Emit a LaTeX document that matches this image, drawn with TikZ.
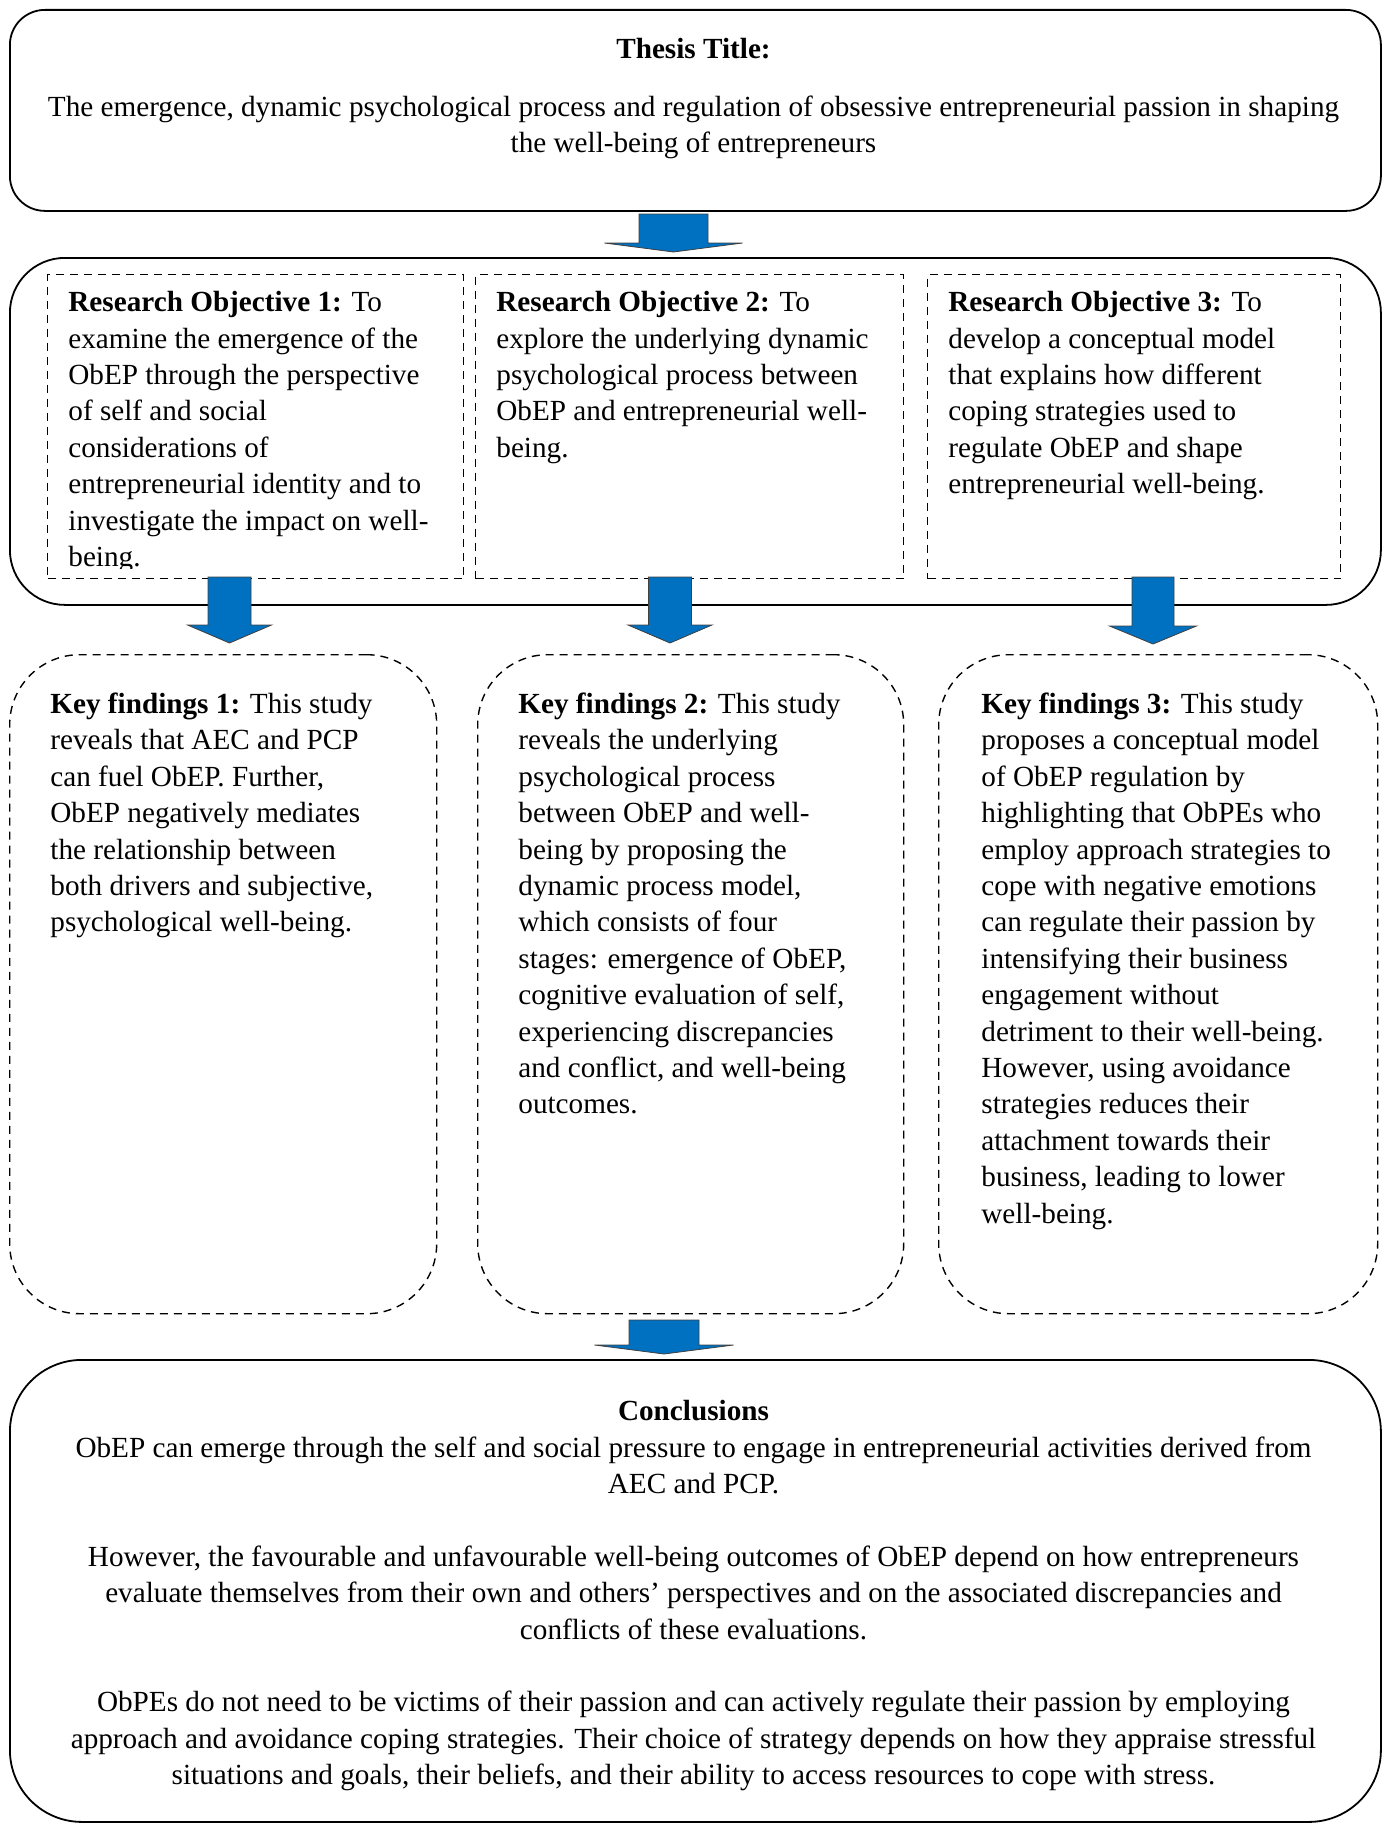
\documentclass[tikz,border=0pt]{standalone}
\usepackage{fontspec}
\setmainfont{Liberation Serif}
\usepackage{xcolor}
\usetikzlibrary{positioning}
\usetikzlibrary{calc}
\definecolor{arrowblue}{HTML}{0070C0}
\tikzstyle{box}=[draw,line width=0.9pt,anchor=north west,inner sep=0pt]
\tikzstyle{dbox}=[draw,line width=0.7pt,dash pattern=on 4pt off 3pt,anchor=north west,inner sep=0pt]
\tikzstyle{blockarrow}=[fill=arrowblue,draw=black!75,line width=0.4pt,line join=miter]
\tikzstyle{txt}=[inner sep=0pt,align=left,anchor=north west,font=\fontsize{14.6pt}{18.2pt}\selectfont]
\tikzset{ctxt/.style={txt,align=center,anchor=north}}

\begin{document}
\begin{tikzpicture}[x=0.5pt,y=-0.5pt]

  \useasboundingbox (0,0) rectangle (1387,1825);

  % solid frames
  \foreach \x/\y/\w/\h/\r/\name in {9/9/1371/201/17.5/title, 9/257/1371/347/27.5/objs, 9/1359/1371/462/36/concl}
          \node[box,rounded corners=\r pt,minimum width=\w*0.5pt,minimum height=\h*0.5pt] (\name) at (\x,\y) {};

  % objective boxes
  \foreach \x/\w/\name in {47/416/ro1, 475/428/ro2, 927/413/ro3}
          \node[dbox,minimum width=\w*0.5pt,minimum height=304*0.5pt] (\name) at (\x,274) {};

  % findings boxes
  \foreach \x/\w/\name in {9/427/kf1, 477/426/kf2, 938/439/kf3}
          \node[dbox,rounded corners=35pt,minimum width=\w*0.5pt,minimum height=659*0.5pt] (\name) at (\x,654) {};

  % block arrows
  \foreach \cx/\yt/\yb/\yp/\s/\hw in {673.5/214/243/252/34.5/69, 229.5/577/625/643/21.5/42, 670/577/625/643/21.5/42, 1153/577/626/644/21/43.5, 664/1320/1345/1354/35/69.5}
         \path[blockarrow] (\cx-\s,\yt) -- (\cx+\s,\yt) -- (\cx+\s,\yb) -- (\cx+\hw,\yb) -- (\cx,\yp) -- (\cx-\hw,\yb) -- (\cx-\s,\yb) -- cycle;

  % texts
  \node[ctxt] (titletxt) at ([shift={(684.5,28.5)}]title.north west)
    {\textbf{Thesis Title:}\\[10.8pt]
     The emergence, dynamic psychological process and regulation of obsessive entrepreneurial passion in shaping\\
     the well-being of entrepreneurs};

  \begin{scope}
    \clip (ro1.north west) rectangle ($(ro1.south east)+(0,-11)$);
    \node[txt] (ro1txt) at ([shift={(21,17)}]ro1.north west)
      {\textbf{Research Objective 1:} To\\
       examine the emergence of the\\
       ObEP through the perspective\\
       of self and social\\
       considerations of\\
       entrepreneurial identity and to\\
       investigate the impact on well-\\
       being.};
  \end{scope}

  \node[txt] (ro2txt) at ([shift={(21,17)}]ro2.north west)
    {\textbf{Research Objective 2:} To\\
     explore the underlying dynamic\\
     psychological process between\\
     ObEP and entrepreneurial well-\\
     being.};

  \node[txt] (ro3txt) at ([shift={(21,17)}]ro3.north west)
    {\textbf{Research Objective 3:} To\\
     develop a conceptual model\\
     that explains how different\\
     coping strategies used to\\
     regulate ObEP and shape\\
     entrepreneurial well-being.};

  \node[txt] (kf1txt) at ([shift={(41,38.5)}]kf1.north west)
    {\textbf{Key findings 1:} This study\\
     reveals that AEC and PCP\\
     can fuel ObEP. Further,\\
     ObEP negatively mediates\\
     the relationship between\\
     both drivers and subjective,\\
     psychological well-being.};

  \node[txt] (kf2txt) at ([shift={(41,38.5)}]kf2.north west)
    {\textbf{Key findings 2:} This study\\
     reveals the underlying\\
     psychological process\\
     between ObEP and well-\\
     being by proposing the\\
     dynamic process model,\\
     which consists of four\\
     stages: emergence of ObEP,\\
     cognitive evaluation of self,\\
     experiencing discrepancies\\
     and conflict, and well-being\\
     outcomes.};

  \node[txt] (kf3txt) at ([shift={(43,38.5)}]kf3.north west)
    {\textbf{Key findings 3:} This study\\
     proposes a conceptual model\\
     of ObEP regulation by\\
     highlighting that ObPEs who\\
     employ approach strategies to\\
     cope with negative emotions\\
     can regulate their passion by\\
     intensifying their business\\
     engagement without\\
     detriment to their well-being.\\
     However, using avoidance\\
     strategies reduces their\\
     attachment towards their\\
     business, leading to lower\\
     well-being.};

  \node[ctxt] (concltxt) at ([shift={(684.5,41)}]concl.north west)
    {\textbf{Conclusions}\\
     ObEP can emerge through the self and social pressure to engage in entrepreneurial activities derived from\\
     AEC and PCP.\\[18.2pt]
     However, the favourable and unfavourable well-being outcomes of ObEP depend on how entrepreneurs\\
     evaluate themselves from their own and others’ perspectives and on the associated discrepancies and\\
     conflicts of these evaluations.\\[18.2pt]
     ObPEs do not need to be victims of their passion and can actively regulate their passion by employing\\
     approach and avoidance coping strategies. Their choice of strategy depends on how they appraise stressful\\
     situations and goals, their beliefs, and their ability to access resources to cope with stress.};

\end{tikzpicture}
\end{document}
